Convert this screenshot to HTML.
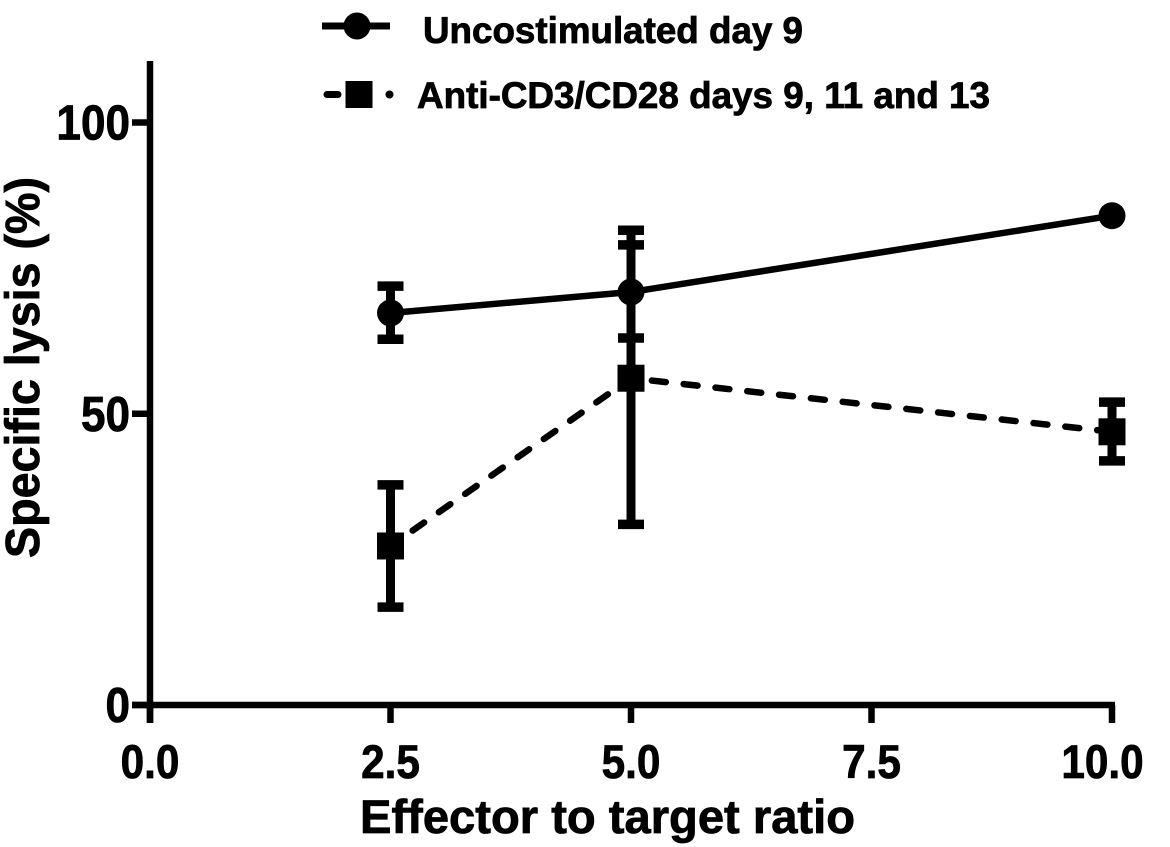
<!DOCTYPE html>
<html lang="en">
<head>
<meta charset="utf-8">
<title>Specific lysis chart</title>
<style>
html,body{margin:0;padding:0;background:#fff;}
svg{display:block;}
text{font-family:"Liberation Sans",Arial,sans-serif;font-weight:bold;fill:#000;stroke:#000;stroke-width:0.8px;}
</style>
</head>
<body>
<svg id="chart" width="1170" height="847" viewBox="0 0 1170 847" xmlns="http://www.w3.org/2000/svg">
  <rect width="1170" height="847" fill="#fff"/>

  <g id="axes"></g>
  <g id="series"></g>

  <text transform="translate(39,558) rotate(-90)" font-size="48" textLength="381" lengthAdjust="spacingAndGlyphs">Specific lysis (%)</text>
  <text x="360" y="833" font-size="47" textLength="495" lengthAdjust="spacingAndGlyphs">Effector to target ratio</text>

  <g>
    <line x1="322" y1="26" x2="390" y2="26" stroke="#000" stroke-width="7"/>
    <circle cx="357" cy="26" r="13.5" fill="#000"/>
    <text x="423" y="43" font-size="37" textLength="380" lengthAdjust="spacingAndGlyphs">Uncostimulated day 9</text>
  </g>
  <g>
    <line x1="327" y1="94.5" x2="338" y2="94.5" stroke="#000" stroke-width="7" stroke-linecap="round"/>
    <rect x="345.5" y="81" width="27" height="27" fill="#000"/>
    <circle cx="389.5" cy="94.5" r="4" fill="#000"/>
    <text x="417" y="108" font-size="37" textLength="573" lengthAdjust="spacingAndGlyphs">Anti-CD3/CD28 days 9, 11 and 13</text>
  </g>
</svg>
<script>
const xTicks = [0, 2.5, 5, 7.5, 10];
const xTickLabels = ['0.0', '2.5', '5.0', '7.5', '10.0'];
const yTicks = [0, 50, 100];
const yTickLabels = ['0', '50', '100'];
const doses = [2.5, 5, 10];
const uncostimulatedMean = [67.3, 70.9, 84];
const uncostimulatedUpper = [71.9, 79, 84];
const uncostimulatedLower = [62.8, 63, 84];
const antiCd3Mean = [27.3, 56.1, 46.9];
const antiCd3Upper = [37.8, 81.5, 52];
const antiCd3Lower = [16.8, 31, 41.9];

const NS = 'http://www.w3.org/2000/svg';
const axesLayer = document.getElementById('axes');
const seriesLayer = document.getElementById('series');

function xScale(v) { return 150 + v * 96.2; }
function yScale(v) { return 705 - v * 5.825; }

function make(tag, attrs, parent) {
  const el = document.createElementNS(NS, tag);
  Object.keys(attrs).forEach(function (k) { el.setAttribute(k, attrs[k]); });
  parent.appendChild(el);
  return el;
}

// Axes
const yAxisLine = make('line', { x1: 150, y1: 61, x2: 150, y2: 723, stroke: '#000', 'stroke-width': 6.5 }, axesLayer);


const xAxisLine = make('line', { x1: 132, y1: 705, x2: xScale(10) + 3, y2: 705, stroke: '#000', 'stroke-width': 6.5 }, axesLayer);



xTicks.forEach(function (v, i) {
  const px = xScale(v);
  const tick = make('line', { x1: px, y1: 705, x2: px, y2: 723, stroke: '#000', 'stroke-width': 6.5 }, axesLayer);
  
  
  const label = make('text', { transform: 'translate(' + Math.min(px, 1102.5) + ',778) scale(0.9,1)', 'text-anchor': 'middle', 'font-size': 47 }, axesLayer);
  
  
  label.textContent = xTickLabels[i];
});

yTicks.forEach(function (v, i) {
  const py = yScale(v);
  const tick = make('line', { x1: 132, y1: py, x2: 150, y2: py, stroke: '#000', 'stroke-width': 6.5 }, axesLayer);
  
  
  const label = make('text', { transform: 'translate(130,' + (py + 17) + ') scale(0.9,1)', 'text-anchor': 'end', 'font-size': 49 }, axesLayer);
  
  
  label.textContent = yTickLabels[i];
});

// Error bars
function drawErrorBars(upper, lower) {
  doses.forEach(function (d, i) {
    if (upper[i] === lower[i]) return;
    const px = xScale(d);
    const stem = make('line', { x1: px, y1: yScale(upper[i]), x2: px, y2: yScale(lower[i]), stroke: '#000', 'stroke-width': 9 }, seriesLayer);
    
    
    [upper[i], lower[i]].forEach(function (val) {
      const cap = make('line', { x1: px - 13, y1: yScale(val), x2: px + 13, y2: yScale(val), stroke: '#000', 'stroke-width': 9.5 }, seriesLayer);
      
      
    });
  });
}
drawErrorBars(uncostimulatedUpper, uncostimulatedLower);
drawErrorBars(antiCd3Upper, antiCd3Lower);

// Solid line with circles
const solidLine = make('polyline', {
  points: doses.map(function (d, i) { return xScale(d) + ',' + yScale(uncostimulatedMean[i]); }).join(' '),
  fill: 'none', stroke: '#000', 'stroke-width': 6.5
}, seriesLayer);



// Dashed line with squares: each segment restarts its dash phase after the marker
const dashPeriod = 32;
const dashStarts = [27, 21];
for (let i = 0; i < doses.length - 1; i++) {
  const seg = make('line', {
    x1: xScale(doses[i]), y1: yScale(antiCd3Mean[i]),
    x2: xScale(doses[i + 1]), y2: yScale(antiCd3Mean[i + 1]),
    stroke: '#000', 'stroke-width': 6.5, 'stroke-linecap': 'round',
    'stroke-dasharray': '14 18', 'stroke-dashoffset': dashPeriod - dashStarts[i]
  }, seriesLayer);
  
  
}

doses.forEach(function (d, i) {
  const dot = make('circle', { cx: xScale(d), cy: yScale(uncostimulatedMean[i]), r: 13.5, fill: '#000' }, seriesLayer);
  
  
  const square = make('rect', { x: xScale(d) - 13.5, y: yScale(antiCd3Mean[i]) - 13.5, width: 27, height: 27, fill: '#000' }, seriesLayer);
  
  
});
</script>
</body>
</html>
